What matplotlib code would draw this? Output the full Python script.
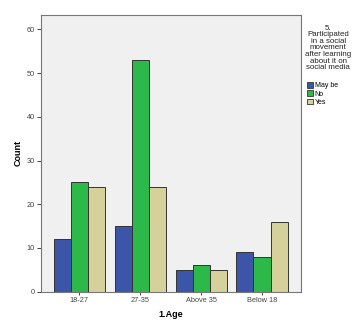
import numpy as np
import matplotlib.pyplot as plt
from matplotlib.patches import Patch

plt.rcParams['font.family'] = ['Liberation Sans', 'DejaVu Sans']

# Age groups and counts per answer
ages = ['18-27', '27-35', 'Above 35', 'Below 18']
maybe = [12, 15, 5, 9]
no = [25, 53, 6, 8]
yes = [24, 24, 5, 16]
answers = ['May be', 'No', 'Yes']
colors = ['#3c55a8', '#2db84a', '#d6d09a']

fig = plt.figure(figsize=(3.59, 3.28), dpi=100)
ax = fig.add_axes([0.1142, 0.1107, 0.7242, 0.8435])
ax.set_facecolor('#f0f0f0')

x = np.arange(len(ages))
w = 0.28
for i, (vals, c) in enumerate(zip([maybe, no, yes], colors)):
    ax.bar(x + (i - 1) * w, vals, width=w, color=c, edgecolor='#333333', linewidth=0.7)

ax.set_xlim(-0.63, 3.64)
ax.set_ylim(0, 63.3)
ax.set_yticks([0, 10, 20, 30, 40, 50, 60])
ax.set_xticks(x)
ax.set_xticklabels(ages)
ax.tick_params(labelsize=5.3, length=3, width=0.7, colors='#444444', pad=1.5)
ax.tick_params(axis='x', length=2.5)
for s in ax.spines.values():
    s.set_color('#777777')
    s.set_linewidth(0.8)

ax.set_ylabel('Count', fontsize=6.5, fontweight='bold', labelpad=3)
ax.set_xlabel('1.Age', fontsize=6.5, fontweight='bold', labelpad=4)

# legend title and entries on the right
fig.text(0.914, 0.925, '5.\nParticipated\nin a social\nmovement\nafter learning\nabout it on\nsocial media',
         ha='center', va='top', fontsize=5.7, linespacing=0.92, color='#222222')
handles = [Patch(facecolor=c, edgecolor='#333333', linewidth=0.6) for c in colors]
fig.legend(handles, answers, loc='upper left', bbox_to_anchor=(0.855, 0.75),
           frameon=False, fontsize=5, handlelength=0.9, handleheight=0.9,
           handletextpad=0.2, labelspacing=0.15, borderpad=0, borderaxespad=0)

fig.savefig('out.png', dpi=100)
